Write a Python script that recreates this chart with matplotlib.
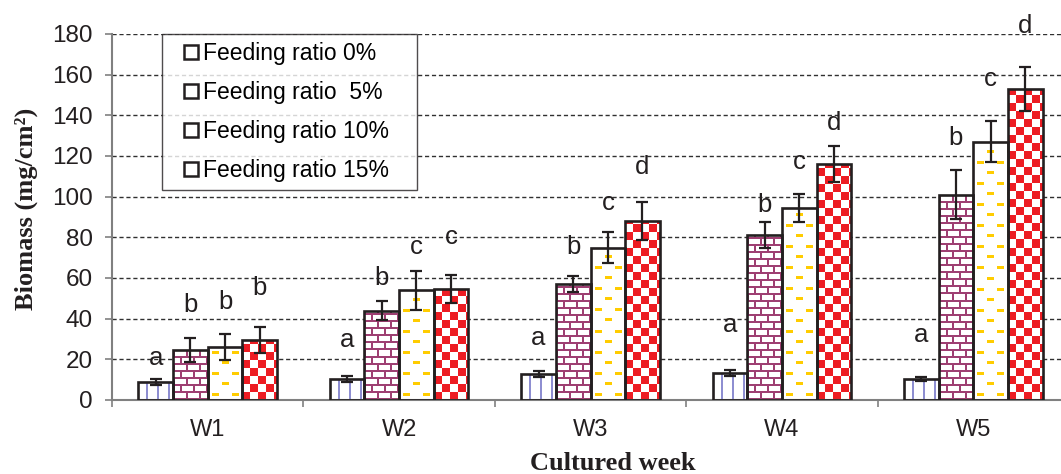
import numpy as np
import matplotlib
matplotlib.use("Agg")
import matplotlib.pyplot as plt
from matplotlib.patches import Rectangle
from matplotlib.legend_handler import HandlerPatch

weeks = ['W1', 'W2', 'W3', 'W4', 'W5']
series = ['Feeding ratio 0%', 'Feeding ratio  5%', 'Feeding ratio 10%', 'Feeding ratio 15%']

biomass_0 = [9, 10.5, 13, 13.5, 10.5]
biomass_5 = [24.5, 44, 57, 81, 101]
biomass_10 = [26, 54, 75, 94.5, 127]
biomass_15 = [29.5, 54.5, 88, 116, 153]

err_0 = [1.5, 1.5, 1.5, 1.5, 1]
err_5 = [6, 4.8, 3.8, 6.3, 12]
err_10 = [6.4, 9.5, 7.5, 7, 10]
err_15 = [6.3, 7, 9.3, 9, 11]

letters_0 = ['a', 'a', 'a', 'a', 'a']
letters_5 = ['b', 'b', 'b', 'b', 'b']
letters_10 = ['b', 'c', 'c', 'c', 'c']
letters_15 = ['b', 'c', 'd', 'd', 'd']

# heights of the significance letters
letter_y_0 = [20.6, 29.5, 30.5, 37, 32]
letter_y_5 = [46.6, 60, 75, 96, 129]
letter_y_10 = [48, 75, 97, 117, 158]
letter_y_15 = [55, 80, 114.7, 136, 184]

values = [biomass_0, biomass_5, biomass_10, biomass_15]
errors = [err_0, err_5, err_10, err_15]
letters = [letters_0, letters_5, letters_10, letters_15]
letter_y = [letter_y_0, letter_y_5, letter_y_10, letter_y_15]


# texture makers, pixel grids (row 0 = bottom)
def stripes(h, w):
    img = np.ones((h, w, 4))
    col = np.array([0.56, 0.56, 0.82, 1])
    for j in range(w):
        if (j - 8) % 11 in (0, 1):
            img[:, j] = col
    return img


def bricks(h, w):
    img = np.ones((h, w, 4))
    col = np.array([0.62, 0.25, 0.45, 1])
    for i in range(h):
        row = i // 7
        for j in range(w):
            if i % 7 in (0, 1):
                img[i, j] = col
            elif (j + (6 if row % 2 else 0)) % 13 in (0, 1):
                img[i, j] = col
    return img


def dashes(h, w):
    img = np.ones((h, w, 4))
    col = np.array([1.0, 0.8, 0.0, 1])
    for i in range(h):
        row = i // 10.5
        if int(i % 10.5) not in (4, 5, 6):
            continue
        for j in range(w):
            if (j + (10 if row % 2 else 0) - 4) % 20 < 7:
                img[i, j] = col
    return img


def checker(h, w):
    img = np.ones((h, w, 4))
    col = np.array([0.93, 0.11, 0.14, 1])
    for i in range(h):
        for j in range(w):
            if ((i // 8) + (j // 8)) % 2 == 0:
                img[i, j] = col
    return img


textures = [stripes, bricks, dashes, checker]


# small square at the right end of the legend handle box
def square_handle(legend, orig_handle, xdescent, ydescent, width, height, fontsize):
    s = 10
    return Rectangle((-xdescent + width - s, -ydescent + (height - s) / 2), s, s)


fig = plt.figure(figsize=(10.61, 4.74), dpi=100)
ax = fig.add_axes([112 / 1061, 1 - 400 / 474, 957 / 1061, 366 / 474])
ax.set_xlim(-0.5, 4.5)
ax.set_ylim(0, 180)

x = np.arange(len(weeks))
w = 0.181
offsets = [-1.5, -0.5, 0.5, 1.5]

for k in range(4):
    xs = x + offsets[k] * w
    bars = ax.bar(xs, values[k], w, color='white', edgecolor='none', zorder=2)
    for b in bars:
        x0, x1 = b.get_x(), b.get_x() + b.get_width()
        y1 = b.get_height()
        p0 = ax.transData.transform((x0, 0))
        p1 = ax.transData.transform((x1, y1))
        pw = max(int(round(p1[0] - p0[0])), 1)
        ph = max(int(round(p1[1] - p0[1])), 1)
        im = ax.imshow(textures[k](ph, pw), extent=(x0, x1, 0, y1), origin='lower',
                       aspect='auto', interpolation='nearest', zorder=2.2)
        im.set_clip_path(b)
    ax.bar(xs, values[k], w, facecolor='none', edgecolor='#231F20', linewidth=1.9, zorder=3)
    ax.errorbar(xs, values[k], yerr=errors[k], fmt='none', ecolor='#231F20',
                elinewidth=1.6, capsize=4.3, capthick=1.6, zorder=4)
    for i in range(len(weeks)):
        ax.text(xs[i], letter_y[k][i], letters[k][i], ha='center', va='center',
                fontsize=18.5, family='Liberation Sans', color='#231F20', clip_on=False)

ax.set_xticks(x)
ax.set_xticklabels(weeks, family='Liberation Sans', fontsize=17, color='#231F20')
ax.set_xticks(np.arange(-0.5, 5.0, 1.0), minor=True)
ax.tick_params(axis='x', which='major', length=0, pad=14)
ax.tick_params(axis='x', which='minor', length=5, width=1.2, color='#808080', direction='out')

ax.set_yticks(np.arange(0, 181, 20))
ax.set_yticklabels([str(v) for v in range(0, 181, 20)], family='Liberation Sans',
                   fontsize=17.5, color='#231F20')
ax.tick_params(axis='y', length=5, width=1.2, color='#808080', pad=9)
ax.yaxis.grid(True, linestyle=(0, (3, 2)), color='#303030', linewidth=1.0)
ax.set_axisbelow(True)

for s in ['top', 'right']:
    ax.spines[s].set_visible(False)
ax.spines['left'].set_color('#808080')
ax.spines['left'].set_linewidth(1.5)
ax.spines['bottom'].set_color('#808080')
ax.spines['bottom'].set_linewidth(1.5)

handles = [Rectangle((0, 0), 1, 1, facecolor='white', edgecolor='#231F20', linewidth=1.8)
           for _ in series]
leg = ax.legend(handles, series, loc='upper left',
                bbox_to_anchor=(50 / 957, 0.0, 255 / 957, 1.0), mode='expand',
                borderaxespad=0, fancybox=False, frameon=True, handlelength=1.22,
                handleheight=0.62, handletextpad=0.22, labelspacing=0.7,
                borderpad=0.35, prop={'family': 'Liberation Sans', 'size': 16.5},
                handler_map={Rectangle: HandlerPatch(patch_func=square_handle)})
leg.get_frame().set_edgecolor('#231F20')
leg.get_frame().set_linewidth(1.0)
leg.set_zorder(5)

fig.text(26 / 1061, 1 - 209 / 474, 'Biomass (mg/cm²)', rotation=90, ha='center',
         va='center', family='Liberation Serif', fontweight='bold', fontsize=19, color='#231F20')
fig.text(613 / 1061, 1 - 463 / 474, 'Cultured week', ha='center', va='center',
         family='Liberation Serif', fontweight='bold', fontsize=19, color='#231F20')

fig.savefig('out.png', dpi=100)
